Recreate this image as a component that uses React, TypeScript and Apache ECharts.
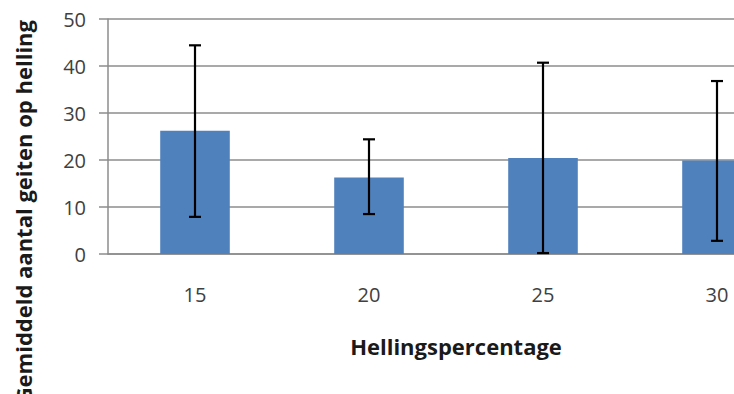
import React, { useEffect, useRef } from "react";
import * as echarts from "echarts";

const categories = ["15", "20", "25", "30"];
const meanValues = [26.2, 16.3, 20.4, 19.9];
const errorLow = [7.9, 8.5, 0.2, 2.8];
const errorHigh = [44.4, 24.4, 40.7, 36.8];
const yTicks = { min: 0, max: 50, interval: 10 };
const xTitle = "Hellingspercentage";
const yTitle = "Gemiddeld aantal geiten op helling";

export default function App() {
  const ref = useRef<HTMLDivElement>(null);
  useEffect(() => {
    if (!ref.current) return;
    const chart = echarts.init(ref.current, null, { renderer: "svg" });
    const font = "'Open Sans', 'Noto Sans', sans-serif";
    const errData = categories.map((_, i) => [i, errorLow[i], errorHigh[i]]);
    chart.setOption({
      animation: false,
      backgroundColor: "#ffffff",
      textStyle: { fontFamily: font },
      grid: { left: 108, top: 19, width: 696, height: 235, containLabel: false },
      xAxis: {
        type: "category",
        data: categories,
        name: xTitle,
        nameLocation: "middle",
        nameGap: 81,
        nameTextStyle: { fontFamily: font, fontSize: 22, fontWeight: "bold", color: "#1a1a1a" },
        axisLine: { show: true, lineStyle: { color: "#8c8c8c", width: 1.5 } },
        axisTick: { show: false },
        axisLabel: { fontFamily: font, fontSize: 20, color: "#404040", margin: 30 },
        splitLine: { show: false },
      },
      yAxis: {
        type: "value",
        min: yTicks.min,
        max: yTicks.max,
        interval: yTicks.interval,
        axisLine: { show: true, lineStyle: { color: "#8c8c8c", width: 1.5 } },
        axisTick: { show: true, length: 9, lineStyle: { color: "#8c8c8c", width: 1.5 } },
        axisLabel: { fontFamily: font, fontSize: 20, color: "#404040", margin: 22 },
        splitLine: { show: true, lineStyle: { color: "#8c8c8c", width: 1.5 } },
      },
      series: [
        {
          type: "bar",
          data: meanValues,
          barWidth: "40%",
          itemStyle: { color: "#4F81BD" },
          z: 2,
        },
        {
          type: "custom",
          data: errData,
          z: 5,
          renderItem: (params: any, api: any) => {
            const idx = api.value(0);
            const lo = api.coord([idx, api.value(1)]);
            const hi = api.coord([idx, api.value(2)]);
            const half = 6;
            const style = { stroke: "#000000", lineWidth: 2.2, fill: "none" };
            return {
              type: "group",
              children: [
                { type: "line", shape: { x1: hi[0], y1: hi[1], x2: lo[0], y2: lo[1] }, style },
                { type: "line", shape: { x1: hi[0] - half, y1: hi[1], x2: hi[0] + half, y2: hi[1] }, style },
                { type: "line", shape: { x1: lo[0] - half, y1: lo[1], x2: lo[0] + half, y2: lo[1] }, style },
              ],
            };
          },
        },
      ],
      graphic: [
        {
          type: "text",
          x: 23,
          y: 20,
          rotation: Math.PI / 2,
          style: {
            text: yTitle,
            fontFamily: font,
            fontSize: 22,
            fontWeight: "bold",
            fill: "#1a1a1a",
            align: "right",
            verticalAlign: "middle",
          },
        },
      ],
    });
    return () => chart.dispose();
  }, []);
  return (
    <div
      style={{ position: "fixed", left: 0, top: 0, width: 734, height: 394, overflow: "hidden", background: "#fff" }}
    >
      <div ref={ref} style={{ width: 840, height: 394 }} />
    </div>
  );
}
